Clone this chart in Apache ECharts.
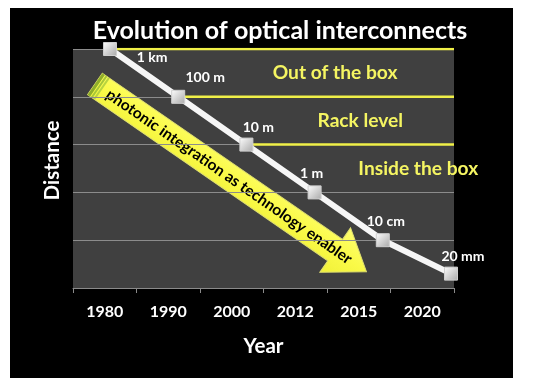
<!DOCTYPE html>
<html>
<head>
<meta charset="utf-8">
<script src="https://cdn.jsdelivr.net/npm/echarts@6/dist/echarts.min.js"></script>
<style>
html,body{margin:0;padding:0;background:#fff;}
#c{width:560px;height:385px;}
</style>
</head>
<body>
<div id="c"></div>
<script>
const years = ['1980', '1990', '2000', '2012', '2015', '2020'];
const distances = [1000, 100, 10, 1, 0.1, 0.02];
const distanceLabels = ['1 km', '100 m', '10 m', '1 m', '10 cm', '20 mm'];
const regionNames = ['Out of the box', 'Rack level', 'Inside the box'];
const regionUpper = [1000, 100, 10];
const arrowText = 'photonic integration as technology enabler';

// layout-only settings
const FONT = 'Lato, "Open Sans", sans-serif';
const X_MIN = -0.5425, X_MAX = 5.044;
const labelOffsets = [[42, 8], [27, -19], [12, -17], [-3, -19], [3, -19], [12, -17]];
const regionLabelX = [3.3, 3.67, 4.52];

const chart = echarts.init(document.getElementById('c'));

const series = [];
regionUpper.forEach((d, i) => {
  series.push({
    type: 'line', xAxisIndex: 1, yAxisIndex: 0, symbol: 'none', silent: true,
    data: [[i, d], [X_MAX, d]],
    lineStyle: { color: '#f0f048', width: 2.5 }, z: 2
  });
});
series.push({
  type: 'line', xAxisIndex: 1, yAxisIndex: 0,
  data: distances.map((d, i) => ({
    value: [i, d],
    label: { offset: labelOffsets[i] }
  })),
  lineStyle: { color: '#f6f6f6', width: 6 },
  symbol: 'rect', symbolSize: 13,
  itemStyle: {
    color: new echarts.graphic.LinearGradient(0, 0, 1, 1, [
      { offset: 0, color: '#ffffff' }, { offset: 1, color: '#a8a8a8' }
    ]),
    borderColor: '#cfcfcf', borderWidth: 1
  },
  label: {
    show: true, position: 'inside',
    formatter: p => distanceLabels[p.dataIndex],
    color: '#ffffff', textBorderWidth: 0, fontFamily: FONT, fontWeight: 'bold', fontSize: 14
  },
  z: 5
});
series.push({
  type: 'scatter', xAxisIndex: 1, yAxisIndex: 0, symbolSize: 0, silent: true,
  data: regionNames.map((n, i) => [regionLabelX[i], Math.sqrt(regionUpper[i] * regionUpper[i] / 10)]),
  itemStyle: { opacity: 1 },
  label: {
    show: true, position: 'inside',
    formatter: p => regionNames[p.dataIndex],
    color: '#f5f562', textBorderWidth: 0, fontFamily: FONT, fontWeight: 'bold', fontSize: 19.2
  },
  z: 4
});

// decorative arrow
const ang = Math.atan2(186, 269);
const Lb = 292, L = 330, hw = 13, hh = 27;
chart.setOption({
  backgroundColor: '#ffffff',
  animation: false,
  title: {
    text: 'Evolution of optical interconnects',
    left: 'center', top: 13,
    textStyle: { color: '#ffffff', fontFamily: FONT, fontWeight: 'bold', fontSize: 25 }
  },
  grid: {
    left: 73, right: 106, top: 49, bottom: 97,
    show: true, backgroundColor: '#404040', borderWidth: 0
  },
  xAxis: [
    {
      type: 'category', data: years, boundaryGap: true,
      name: 'Year', nameLocation: 'middle', nameGap: 48,
      nameTextStyle: { color: '#ffffff', fontFamily: FONT, fontWeight: 'bold', fontSize: 20.5 },
      axisLine: { show: true, lineStyle: { color: '#8a8a8a', width: 1 } },
      axisTick: { show: true, length: 5, lineStyle: { color: '#8a8a8a' } },
      axisLabel: { color: '#ffffff', fontFamily: FONT, fontWeight: 'bold', fontSize: 16, margin: 16 },
      splitLine: { show: false }, z: 3
    },
    {
      type: 'value', min: X_MIN, max: X_MAX, show: false
    }
  ],
  yAxis: [{
    type: 'log', logBase: 10, min: 0.01, max: 1000,
    name: 'Distance', nameLocation: 'middle', nameGap: 10,
    nameTextStyle: { color: '#ffffff', fontFamily: FONT, fontWeight: 'bold', fontSize: 20.5, padding: [0, 0, 0, 16] },
    axisLine: { show: false }, axisTick: { show: false }, axisLabel: { show: false },
    splitLine: { show: true, lineStyle: { color: '#8c8c8c', width: 1 } }
  }],
  graphic: [
    { type: 'rect', z: -10, shape: { x: 10, y: 8, width: 503, height: 370 }, style: { fill: '#000000' } },
    {
      type: 'group', x: 95, y: 84, rotation: -ang, z: 10,
      children: [
        {
          type: 'polygon',
          shape: { points: [[0, -hw], [Lb, -hw], [Lb, -hh], [L, 0], [Lb, hh], [Lb, hw], [0, hw]] },
          style: {
            fill: new echarts.graphic.LinearGradient(0, 0, 0, 1, [
              { offset: 0, color: '#ffff70' }, { offset: 0.5, color: '#fafa48' }, { offset: 1, color: '#f0f038' }
            ]),
            stroke: '#e0e070', lineWidth: 1
          }
        },
        { type: 'rect', shape: { x: 0, y: -hw, width: 3, height: 2 * hw }, style: { fill: '#8fae2a' } },
        { type: 'rect', shape: { x: 4, y: -hw, width: 2, height: 2 * hw }, style: { fill: '#a6c63a' } },
        { type: 'rect', shape: { x: 7, y: -hw, width: 2, height: 2 * hw }, style: { fill: '#b8d440' } },
        {
          type: 'text', x: 163, y: 0,
          style: {
            text: arrowText, fill: '#000000', align: 'center', verticalAlign: 'middle',
            font: 'bold 15.5px ' + FONT
          }
        }
      ]
    }
  ],
  series: series
});
</script>
</body>
</html>
